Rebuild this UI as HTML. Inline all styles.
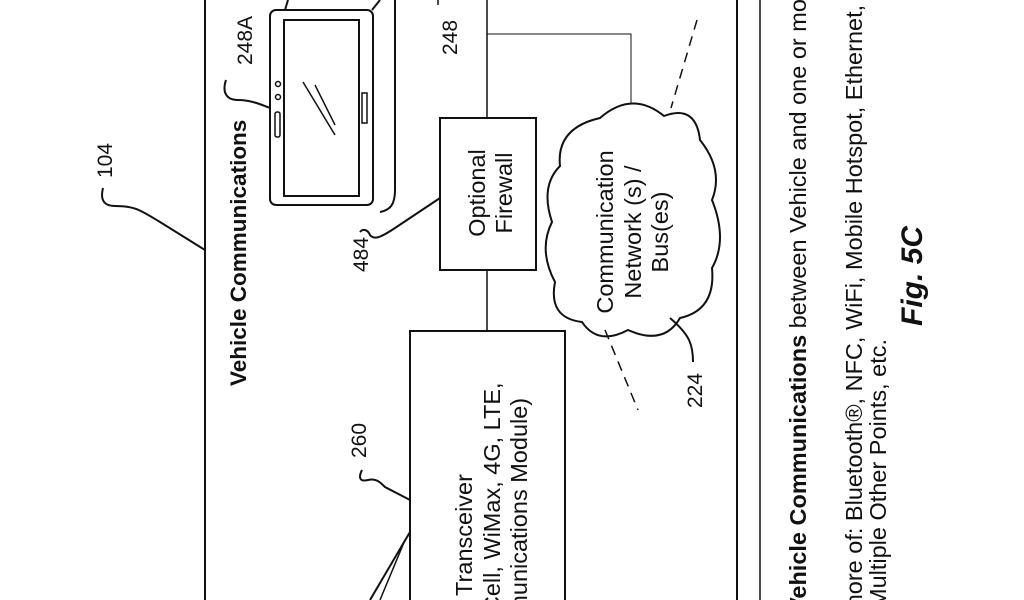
<!DOCTYPE html>
<html><head><meta charset="utf-8"><style>
html,body{margin:0;padding:0;background:#fff;overflow:hidden;width:1024px;height:600px;}
svg{display:block;}
text{font-family:"Liberation Sans",Arial,sans-serif;fill:#111;}
</style></head><body>
<svg width="1024" height="600" viewBox="0 0 1024 600" xmlns="http://www.w3.org/2000/svg">
<g fill="none" stroke="#111" stroke-width="2">
<line x1="205" y1="0" x2="205" y2="600"/>
<line x1="737" y1="0" x2="737" y2="600"/>
<line x1="760" y1="0" x2="760" y2="600" stroke-width="1.5"/>
<path d="M103,188 C100,200 104,206 115,206 C135,206 140,210 160,222 L205,250"/>
<rect x="270" y="10" width="103" height="195" rx="6"/>
<rect x="284" y="20" width="75" height="176"/>
<circle cx="278" cy="84" r="2.5" stroke-width="1.5"/>
<circle cx="278" cy="97" r="2.5" stroke-width="1.5"/>
<rect x="275" y="112" width="5" height="25" rx="2" stroke-width="1.5"/>
<rect x="362" y="93" width="5" height="30" stroke-width="1.5"/>
<line x1="303" y1="82" x2="335" y2="135" stroke-width="1.5"/>
<line x1="315" y1="85" x2="335" y2="125" stroke-width="1.5"/>
<path d="M285,10 L288,0"/>
<path d="M372,10 L380,0"/>
<path d="M395,0 L395,190 C395,205 390,210 380,212"/>
<path d="M226,80 C222,92 226,100 238,100 C250,100 260,104 270,108"/>
<line x1="438" y1="0" x2="438" y2="5" stroke-width="1.5"/>
<line x1="487" y1="0" x2="487" y2="118" stroke-width="1.5"/>
<line x1="487" y1="270" x2="487" y2="331" stroke-width="1.5"/>
<path d="M487,34 L631,34 L631,104" stroke-width="1"/>
<rect x="440" y="118" width="96" height="152"/>
<path d="M360,232 C363,228 368,230 370,235 C374,240 380,238 395,228 L440,198"/>
<path d="M600,118 Q632,90 664,116 Q696,104 700,140 Q724,170 712,200 Q728,240 712,268 Q716,310 680,318 Q664,346 628,330 Q598,346 582,322 Q548,318 555,282 Q538,250 552,222 Q540,186 560,166 Q556,128 600,118 Z"/>
<line x1="697" y1="20" x2="671" y2="108" stroke-dasharray="10,7" stroke-width="1.5"/>
<line x1="605" y1="330" x2="638" y2="410" stroke-dasharray="10,7" stroke-width="1.5"/>
<path d="M670,318 C690,335 693,345 693,362"/>
<rect x="410" y="331" width="155" height="300"/>
<path d="M362,470 C358,478 360,482 368,480 C376,478 380,482 385,487 L410,500"/>
<line x1="410" y1="532" x2="370" y2="600"/>
<line x1="405" y1="540" x2="380" y2="600" stroke-width="1.5"/>
</g>
<g font-size="21">
<text transform="translate(112,178) rotate(-90)">104</text>
<text transform="translate(252,65) rotate(-90)">248A</text>
<text transform="translate(457,55) rotate(-90)">248</text>
<text transform="translate(368,272) rotate(-90)">484</text>
<text transform="translate(366,458) rotate(-90)">260</text>
<text transform="translate(702,408) rotate(-90)">224</text>
</g>
<g font-size="23.5">
<text transform="translate(246,386) rotate(-90)" font-size="22.5" font-weight="bold">Vehicle Communications</text>
<text transform="translate(485,193) rotate(-90)" text-anchor="middle">Optional</text>
<text transform="translate(512,193) rotate(-90)" text-anchor="middle">Firewall</text>
<text transform="translate(613,232) rotate(-90)" text-anchor="middle">Communication</text>
<text transform="translate(641,232) rotate(-90)" text-anchor="middle">Network (s) /</text>
<text transform="translate(668,232) rotate(-90)" text-anchor="middle">Bus(es)</text>
<text transform="translate(472,535) rotate(-90)" text-anchor="middle">Transceiver</text>
<text transform="translate(500,535) rotate(-90)" text-anchor="middle">(FemtoCell, WiMax, 4G, LTE,</text>
<text transform="translate(527,535) rotate(-90)" text-anchor="middle">(Communications Module)</text>
</g>
<g font-size="23.5">
<text transform="translate(806,613) rotate(-90)"><tspan font-weight="bold">Vehicle Communications</tspan> between Vehicle and one or more</text>
<text transform="translate(862,700) rotate(-90)">(One or more of: Bluetooth®, NFC, WiFi, Mobile Hotspot, Ethernet, 802.11</text>
<text transform="translate(886,608) rotate(-90)">Multiple Other Points, etc.</text>
<text transform="translate(922,326) rotate(-90)" font-size="30" font-weight="bold" font-style="italic">Fig. 5C</text>
</g>
</svg>
</body></html>
